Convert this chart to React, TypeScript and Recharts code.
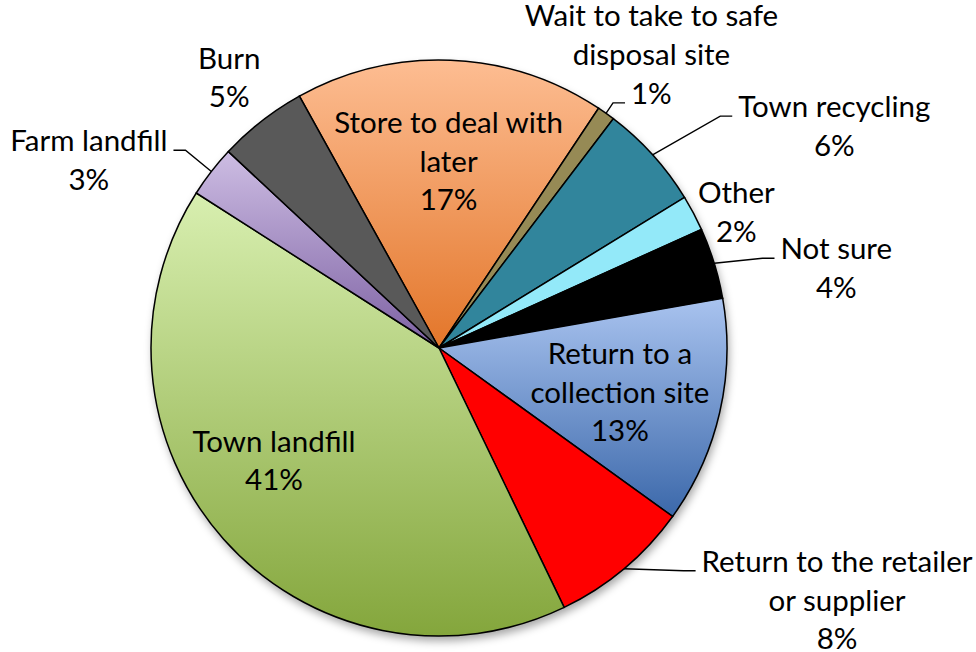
import React from "react";
import { PieChart, Pie, Cell } from "recharts";

// ---- data ----
const CATEGORIES: string[] = [
  "Store to deal with later",
  "Wait to take to safe disposal site",
  "Town recycling",
  "Other",
  "Not sure",
  "Return to a collection site",
  "Return to the retailer or supplier",
  "Town landfill",
  "Farm landfill",
  "Burn",
];
const SHARES: number[] = [17.4, 1.0, 5.9, 2.0, 4.0, 12.7, 7.9, 41.2, 2.9, 5.0];

// ---- styles ----
type Fill = { id?: string; top: string; bottom: string };
const FILLS: Fill[] = [
  { id: "gStore", top: "#FDBD92", bottom: "#E3762A" },
  { top: "#968A55", bottom: "#968A55" },
  { top: "#31859C", bottom: "#31859C" },
  { top: "#93E9F9", bottom: "#93E9F9" },
  { top: "#000000", bottom: "#000000" },
  { id: "gCollect", top: "#A9C3EF", bottom: "#3B68AA" },
  { top: "#FF0000", bottom: "#FF0000" },
  { id: "gLandfill", top: "#D8EFB0", bottom: "#84A63C" },
  { id: "gFarm", top: "#CDBDE3", bottom: "#7D61A3" },
  { top: "#595959", bottom: "#595959" },
];

const FONT = "Lato, 'Open Sans', sans-serif";
const FONT_SIZE = 29.5;
const LINE_H = 38.7;

// label layout: words per line, radial factor, offset, optional leader
type Leader = { line: number; side: "left" | "right" };
type LabelLayout = { words: number[]; k: number; dx: number; dy: number; leader?: Leader };
const LABEL_LAYOUT: LabelLayout[] = [
  { words: [4, 1], k: 0.65, dx: 2, dy: -28 },
  { words: [5, 2], k: 1.2, dx: 12, dy: -40, leader: { line: 2, side: "right" } },
  { words: [2], k: 1.2, dx: 139, dy: 1, leader: { line: 0, side: "right" } },
  { words: [1], k: 1.2, dx: -8, dy: 17 },
  { words: [2], k: 1.2, dx: 67, dy: 13, leader: { line: 0, side: "right" } },
  { words: [3, 2], k: 0.65, dx: -1.5, dy: -26 },
  { words: [4, 2], k: 1.2, dx: 176, dy: -41, leader: { line: 0, side: "right" } },
  { words: [2], k: 0.65, dx: -25, dy: -20.6 },
  { words: [2], k: 1.2, dx: -77, dy: 15, leader: { line: 0, side: "left" } },
  { words: [1], k: 1.2, dx: 3, dy: -7 },
];

const TOTAL = SHARES.reduce((a, b) => a + b, 0);
const data = CATEGORIES.map((name, i) => ({ name, value: SHARES[i] }));
const RAD = Math.PI / 180;

let ctx: CanvasRenderingContext2D | null = null;
function measure(t: string): number {
  if (!ctx) ctx = document.createElement("canvas").getContext("2d");
  if (!ctx) return t.length * FONT_SIZE * 0.5;
  ctx.font = `${FONT_SIZE}px ${FONT}`;
  return ctx.measureText(t).width;
}

function splitWords(name: string, counts: number[]): string[] {
  const w = name.split(" ");
  const out: string[] = [];
  let p = 0;
  counts.forEach((c) => {
    out.push(w.slice(p, p + c).join(" "));
    p += c;
  });
  return out;
}

const renderLabel = (props: any) => {
  const { cx, cy, midAngle, outerRadius, index } = props;
  const L = LABEL_LAYOUT[index];
  const m = midAngle * RAD;
  const ax = cx + L.k * outerRadius * Math.cos(m) + L.dx;
  const ay = cy - L.k * outerRadius * Math.sin(m) + L.dy;
  const lines = splitWords(CATEGORIES[index], L.words);
  lines.push(`${Math.round((SHARES[index] / TOTAL) * 100)}%`);
  let leader: React.ReactNode = null;
  if (L.leader) {
    const sx = cx + outerRadius * Math.cos(m);
    const sy = cy - outerRadius * Math.sin(m);
    const lw = measure(lines[L.leader.line]);
    const ly = ay + L.leader.line * LINE_H - 1;
    const ex = L.leader.side === "right" ? ax - lw / 2 - 6 : ax + lw / 2 + 6;
    const bx = L.leader.side === "right" ? ex - 12 : ex + 12;
    leader = (
      <polyline
        points={`${sx},${sy} ${bx},${ly} ${ex},${ly}`}
        fill="none"
        stroke="#000"
        strokeWidth={1.4}
      />
    );
  }
  return (
    <g key={`lbl-${index}`}>
      {leader}
      <text textAnchor="middle" fontFamily={FONT} fontSize={FONT_SIZE} fill="#000">
        {lines.map((t, i) => (
          <tspan key={i} x={ax} y={ay + i * LINE_H}>
            {t}
          </tspan>
        ))}
      </text>
    </g>
  );
};

export default function App() {
  return (
    <div style={{ position: "absolute", left: 0, top: 0, width: 976, height: 652, background: "#fff" }}>
      <PieChart width={976} height={652} margin={{ top: 0, right: 0, bottom: 0, left: 0 }}>
        <defs>
          {FILLS.filter((f) => f.id).map((f) => (
            <linearGradient key={f.id} id={f.id} x1="0" y1="0" x2="0" y2="1">
              <stop offset="0%" stopColor={f.top} />
              <stop offset="100%" stopColor={f.bottom} />
            </linearGradient>
          ))}
          <filter id="pieShadow" x="-20%" y="-20%" width="140%" height="140%">
            <feGaussianBlur stdDeviation="4" />
          </filter>
        </defs>
        <Pie
          data={[{ name: "shadow", value: TOTAL }]}
          dataKey="value"
          cx={441}
          cy={353}
          outerRadius={288}
          stroke="none"
          isAnimationActive={false}
          legendType="none"
        >
          <Cell fill="#000" fillOpacity={0.35} filter="url(#pieShadow)" />
        </Pie>
        <Pie
          data={data}
          dataKey="value"
          nameKey="name"
          cx={439}
          cy={348}
          outerRadius={288}
          startAngle={119}
          endAngle={-241}
          stroke="#000"
          strokeWidth={1.5}
          isAnimationActive={false}
          label={renderLabel}
          labelLine={false}
        >
          {FILLS.map((f, i) => (
            <Cell key={i} fill={f.id ? `url(#${f.id})` : f.top} stroke="#000" strokeWidth={1.5} />
          ))}
        </Pie>
      </PieChart>
    </div>
  );
}
